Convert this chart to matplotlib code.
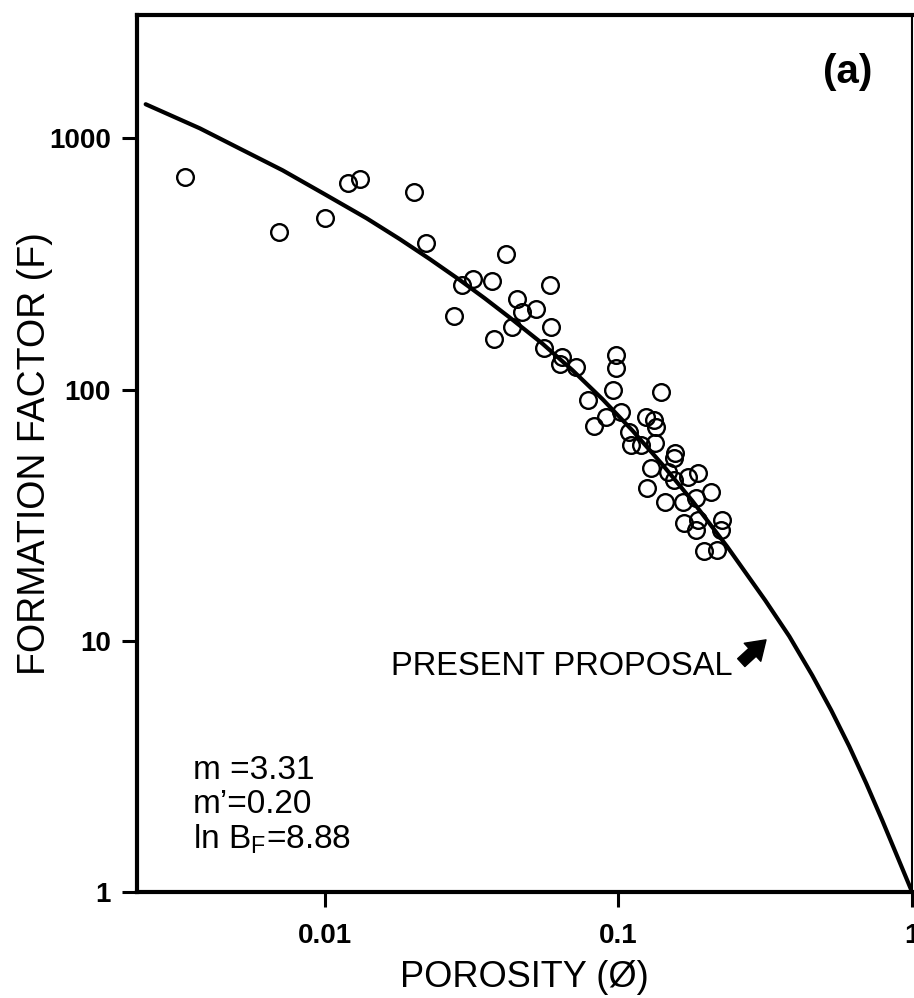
import matplotlib
matplotlib.use('Agg')
import matplotlib.pyplot as plt
from matplotlib import rcParams

rcParams['font.family'] = ['Liberation Sans', 'DejaVu Sans']
rcParams['mathtext.fontset'] = 'custom'
rcParams['mathtext.rm'] = 'Liberation Sans'

# measured samples (porosity, formation factor)
porosity = [0.00334, 0.00698, 0.0100, 0.0120, 0.0132, 0.0202, 0.0222, 0.0416, 0.0294, 0.0321,
            0.0370, 0.0275, 0.0587, 0.0453, 0.0468, 0.0526, 0.0435, 0.0591, 0.0378, 0.0560,
            0.0645, 0.0635, 0.0720, 0.0984, 0.0984, 0.0962, 0.0785, 0.140, 0.0910, 0.0829,
            0.1024, 0.1245, 0.1325, 0.1345, 0.109, 0.1107, 0.1197, 0.1337, 0.156, 0.155,
            0.1294, 0.147, 0.155, 0.172, 0.186, 0.1255, 0.1445, 0.1663, 0.184, 0.207,
            0.1675, 0.186, 0.184, 0.226, 0.224, 0.196, 0.217]
formation = [700, 423, 481, 663, 688, 611, 383, 346, 260, 275,
             272, 196, 260, 229, 203, 209, 177, 177, 159, 146,
             135, 127, 123, 137, 122, 100, 90.8, 97.7, 77.6, 71.5,
             81.3, 77.6, 75.5, 70.8, 67.7, 60.1, 60.1, 61.2, 55.8, 53.3,
             48.7, 46.9, 43.6, 44.8, 46.5, 40.5, 35.6, 35.6, 37.0, 39.1,
             29.4, 30.2, 27.6, 30.2, 27.6, 22.7, 23.0]

# "present proposal" curve
curve_phi = [0.00246, 0.00376, 0.00518, 0.00719, 0.0100, 0.0139, 0.01799, 0.02275,
             0.02879, 0.0350, 0.0426, 0.0551, 0.0697, 0.0882, 0.1116, 0.1411,
             0.1785, 0.2348, 0.3162, 0.3816, 0.4569, 0.5302, 0.6105, 0.6973,
             0.7906, 0.8892, 1.0]
curve_F = [1368, 1097, 907, 747, 600, 481, 398, 331.6,
           273.7, 231.5, 194, 152.6, 119.7, 91.8, 68.8, 50.4,
           36.1, 23.7, 14.5, 10.44, 7.30, 5.30, 3.81, 2.715,
           1.934, 1.391, 1.0]

x_ticks = [0.01, 0.1, 1]
x_labels = ['0.01', '0.1', '1']
y_ticks = [1, 10, 100, 1000]
y_labels = ['1', '10', '100', '1000']

params = ['m =3.31', 'm\u2019=0.20', r'ln B$_\mathregular{F}$=8.88']

fig = plt.figure(figsize=(9.14, 9.98), dpi=100)
ax = fig.add_axes([0.150, 0.106, 0.848, 0.879])

ax.plot(curve_phi, curve_F, color='black', lw=3, solid_capstyle='round',
        solid_joinstyle='round')
ax.plot(porosity, formation, 'o', ms=12, mfc='none', mec='black', mew=1.7)

ax.set_xscale('log')
ax.set_yscale('log')
ax.set_xlim(0.0023, 1)
ax.set_ylim(1, 3100)
ax.minorticks_off()
ax.set_xticks(x_ticks)
ax.set_xticklabels(x_labels)
ax.set_yticks(y_ticks)
ax.set_yticklabels(y_labels)
ax.tick_params(direction='out', length=11, width=2.2, labelsize=20, pad=8)
for lab in ax.get_xticklabels() + ax.get_yticklabels():
    lab.set_fontweight('bold')
ax.tick_params(axis='x', pad=11)

for side in ['left', 'bottom', 'top']:
    ax.spines[side].set_linewidth(3)
ax.spines['right'].set_linewidth(1.5)

ax.set_xlabel('POROSITY (\u00d8)', fontsize=26, labelpad=8)
ax.set_ylabel('FORMATION FACTOR (F)', fontsize=27)
ax.yaxis.set_label_coords(-0.108, 0.5)

ax.text(0.917, 0.935, '(a)', transform=ax.transAxes, fontsize=29,
        fontweight='bold', ha='center', va='center')

for i, s in enumerate(params):
    ax.text(0.072, 0.139 - i * 0.039, s, transform=ax.transAxes, fontsize=24,
            ha='left', va='center')

ax.text(0.245, 7.9, 'PRESENT PROPOSAL', fontsize=23.5, ha='right', va='center')
ax.annotate('', xy=(0.318, 10.1), xytext=(0.262, 8.2),
            arrowprops=dict(arrowstyle='simple,head_width=0.8,head_length=0.6,tail_width=0.35',
                            mutation_scale=22, fc='black', ec='black',
                            shrinkA=0, shrinkB=0))

fig.savefig('out.png', dpi=100)
